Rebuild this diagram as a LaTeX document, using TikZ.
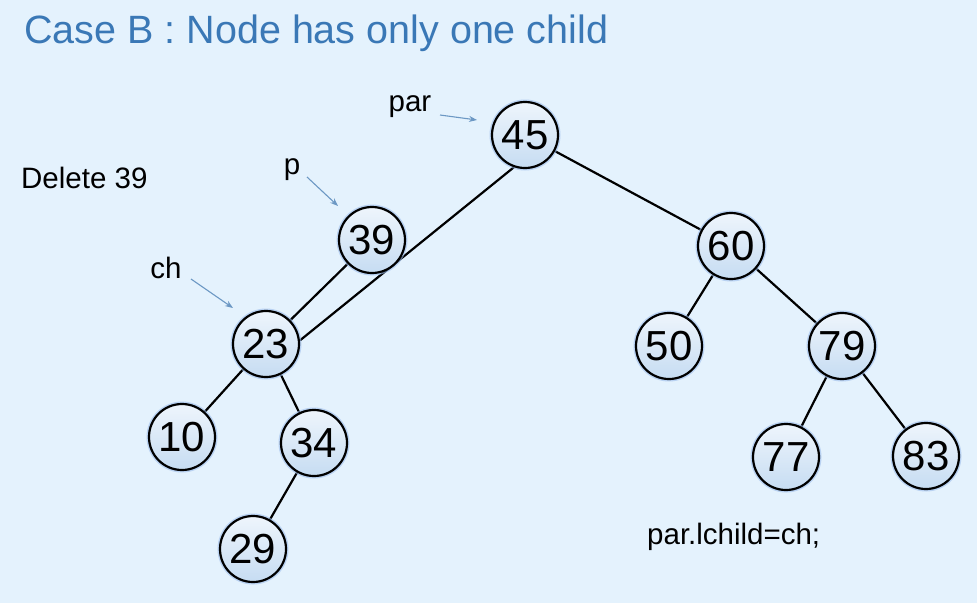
\documentclass[tikz,border=0pt]{standalone}
\usepackage{fontspec}
\setmainfont{Liberation Sans}
\usetikzlibrary{arrows.meta}
\definecolor{bg}{HTML}{E4F2FD}
\definecolor{titleblue}{HTML}{3A78B6}
\definecolor{nodetop}{HTML}{EEF5FC}
\definecolor{nodebot}{HTML}{C6DCF2}
\definecolor{glow}{HTML}{9DBDEB}
\definecolor{ptr}{HTML}{6C98C4}
\pgfdeclarelayer{bgfill}
\pgfdeclarelayer{edges}
\pgfsetlayers{bgfill,edges,main}
\tikzset{
  bst/.style={circle, draw=black, line width=2.2pt, minimum size=66pt, inner sep=0pt,
    top color=nodetop, bottom color=nodebot,
    font=\fontsize{42}{44}\selectfont,
    preaction={draw=glow, line width=5pt, opacity=0.6}},
  edge/.style={line width=2.2pt, black},
  lbl/.style={font=\fontsize{29.5}{32}\selectfont, inner sep=0pt},
  ptrarrow/.style={ptr, line width=1.1pt, -{Stealth[length=8pt,width=6pt]}}
}
\begin{document}
\begin{tikzpicture}[x=1pt,y=-1pt]
\begin{pgfonlayer}{bgfill}
\fill[bg] (0,0) rectangle (977,603);
\end{pgfonlayer}
\useasboundingbox (0,0) rectangle (977,603);
\node[anchor=west, text=titleblue, font=\fontsize{39.5}{44}\selectfont, inner sep=0pt] (title) at (24,33) {Case B : Node has only one child};
\node[lbl, anchor=west] (del) at (21,178) {Delete 39};
% tree nodes
\node[bst] (n45) at (525,135) {45};
\node[bst] (n39) at (372,240) {39};
\node[bst] (n23) at (266,344) {23};
\node[bst] (n10) at (182,437) {10};
\node[bst] (n34) at (314,443) {34};
\node[bst] (n29) at (253,549) {29};
\node[bst] (n60) at (731,246) {60};
\node[bst] (n50) at (669,346) {50};
\node[bst] (n79) at (842,346) {79};
\node[bst] (n77) at (786,457) {77};
\node[bst] (n83) at (926,456) {83};
% edges
\begin{pgfonlayer}{edges}
\draw[edge] (n45.251) -- (n23.6);
\draw[edge] (n45) -- (n60);
\draw[edge] (n39) -- (n23);
\draw[edge] (n23) -- (n10);
\draw[edge] (n23) -- (n34);
\draw[edge] (n34) -- (n29);
\draw[edge] (n60) -- (n50);
\draw[edge] (n60) -- (n79);
\draw[edge] (n79) -- (n77);
\draw[edge] (n79) -- (n83);
\end{pgfonlayer}
% pointer labels
\node[lbl] (par) at (410,107) {par};
\node[lbl] (p) at (292,170) {p};
\node[lbl] (ch) at (166,268) {ch};
\coordinate (parA) at (440,115);
\coordinate (parB) at (477,120);
\coordinate (pA) at (307,177);
\coordinate (pB) at (338,206);
\coordinate (chA) at (191,279);
\coordinate (chB) at (233,308);
\draw[ptrarrow] (parA) -- (parB);
\draw[ptrarrow] (pA) -- (pB);
\draw[ptrarrow] (chA) -- (chB);
\node[lbl, anchor=west] (code) at (647,537) {par.lchild=ch;};
\end{tikzpicture}
\end{document}
